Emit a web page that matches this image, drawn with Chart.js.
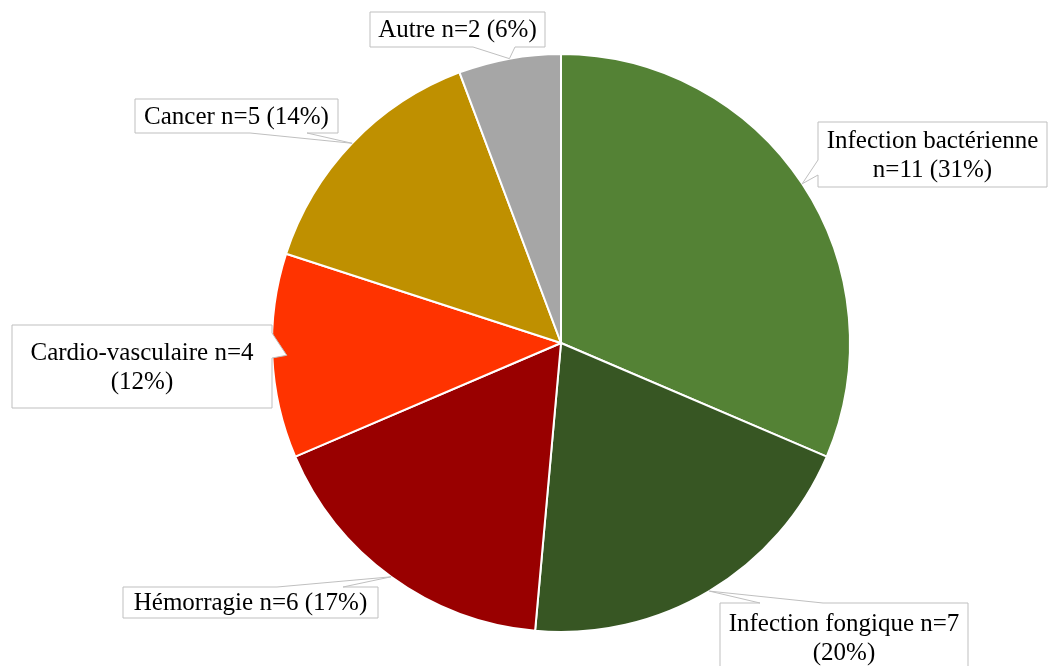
<!DOCTYPE html>
<html><head><meta charset="utf-8">
<script src="https://cdn.jsdelivr.net/npm/chart.js@4.4.0/dist/chart.umd.min.js"></script>
<style>html,body{margin:0;padding:0;background:#fff}canvas{display:block}</style>
</head><body>
<canvas id="c" width="1048" height="666"></canvas>
<script>
const categories = ['Infection bactérienne','Infection fongique','Hémorragie','Cardio-vasculaire','Cancer','Autre'];
const counts = [11, 7, 6, 4, 5, 2];
const percents = [31, 20, 17, 12, 14, 6];
const colors = ['#548235','#375623','#990000','#FF3300','#BF9000','#A6A6A6'];

// layout of callout boxes (positions only)
const callouts = [
  {x:818, y:122, w:229, h:65, side:'left',   base:[160,175], wrap:'name', tipR:1.0},
  {x:720, y:603, w:248, h:70, side:'top',    base:[760,823], wrap:'pct',  tipR:1.0},
  {x:123, y:587, w:255, h:31, side:'top',    base:[277,343], wrap:null,   tipR:1.0},
  {x:12,  y:325, w:260, h:83, side:'right',  base:[333,358], wrap:'pct',  tipR:0.95},
  {x:135, y:99,  w:203, h:34, side:'bottom', base:[250,307], wrap:null,   tipR:1.0},
  {x:370, y:12,  w:175, h:35, side:'bottom', base:[473,515], wrap:null,   tipR:1.0}
];

const calloutPlugin = {
  id: 'callouts',
  afterDraw(chart) {
    const ctx = chart.ctx;
    const meta = chart.getDatasetMeta(0);
    ctx.save();
    meta.data.forEach((arc, i) => {
      const c = callouts[i];
      const p = arc.getProps(['x','y','startAngle','endAngle','outerRadius'], true);
      const mid = (p.startAngle + p.endAngle) / 2;
      const tx = p.x + Math.cos(mid) * p.outerRadius * c.tipR;
      const ty = p.y + Math.sin(mid) * p.outerRadius * c.tipR;
      const x0 = c.x, y0 = c.y, x1 = c.x + c.w, y1 = c.y + c.h;
      const pts = [];
      pts.push([x0, y0]);
      if (c.side === 'top') { pts.push([c.base[0], y0], [tx, ty], [c.base[1], y0]); }
      pts.push([x1, y0]);
      if (c.side === 'right') { pts.push([x1, c.base[0]], [tx, ty], [x1, c.base[1]]); }
      pts.push([x1, y1]);
      if (c.side === 'bottom') { pts.push([c.base[1], y1], [tx, ty], [c.base[0], y1]); }
      pts.push([x0, y1]);
      if (c.side === 'left') { pts.push([x0, c.base[1]], [tx, ty], [x0, c.base[0]]); }
      ctx.beginPath();
      pts.forEach((pt, k) => k ? ctx.lineTo(pt[0], pt[1]) : ctx.moveTo(pt[0], pt[1]));
      ctx.closePath();
      ctx.fillStyle = '#ffffff';
      ctx.fill();
      ctx.lineWidth = 1;
      ctx.strokeStyle = '#BFBFBF';
      ctx.stroke();

      const name = categories[i];
      const nPart = 'n=' + counts[i];
      const pPart = '(' + percents[i] + '%)';
      let lines;
      if (c.wrap === 'name') lines = [name, nPart + ' ' + pPart];
      else if (c.wrap === 'pct') lines = [name + ' ' + nPart, pPart];
      else lines = [name + ' ' + nPart + ' ' + pPart];
      ctx.fillStyle = '#000000';
      ctx.font = '25px "Liberation Serif", "Times New Roman", serif';
      ctx.textAlign = 'center';
      ctx.textBaseline = 'middle';
      const lh = 29;
      const cx = (x0 + x1) / 2;
      const cy = (y0 + y1) / 2 + 1;
      const startY = cy - (lines.length - 1) * lh / 2;
      lines.forEach((ln, k) => ctx.fillText(ln, cx, startY + k * lh));
    });
    ctx.restore();
  }
};

new Chart(document.getElementById('c'), {
  type: 'pie',
  data: {
    labels: categories,
    datasets: [{
      data: counts,
      backgroundColor: colors,
      borderColor: '#ffffff',
      borderWidth: 2
    }]
  },
  options: {
    responsive: false,
    animation: false,
    layout: { padding: { left: 271, right: 197, top: 53, bottom: 33 } },
    plugins: { legend: { display: false }, tooltip: { enabled: false } }
  },
  plugins: [calloutPlugin]
});
</script>
</body></html>
